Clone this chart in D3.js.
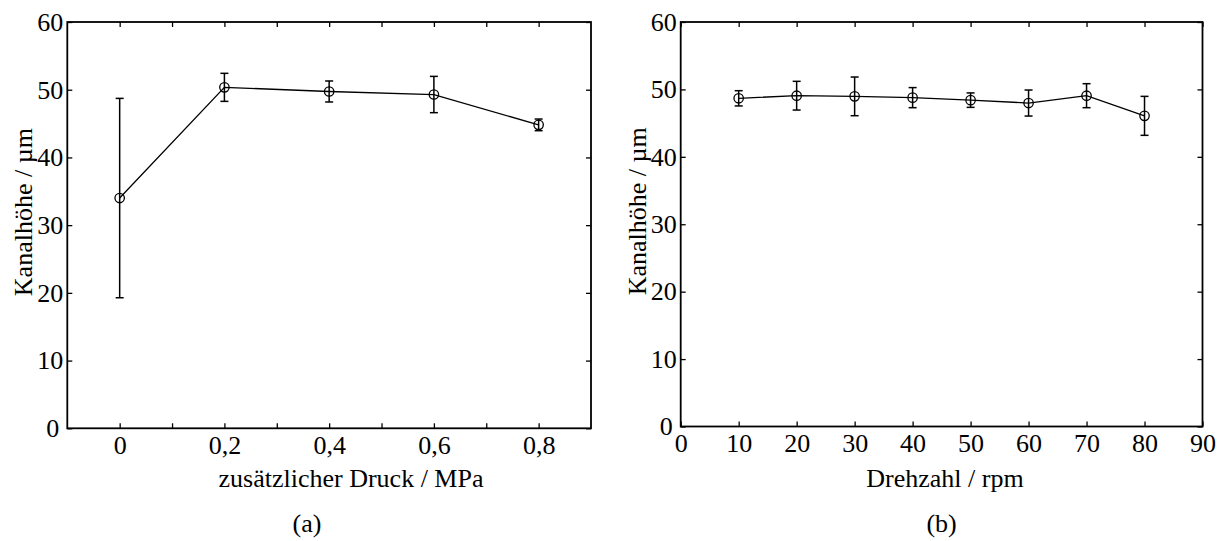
<!DOCTYPE html>
<html>
<head>
<meta charset="utf-8">
<script src="https://cdn.jsdelivr.net/npm/d3@7"></script>
<style>
  html, body { margin: 0; padding: 0; background: #fff; }
  svg text { font-family: "Liberation Serif", "Times New Roman", serif; fill: #000; }
</style>
</head>
<body>
<div id="chart"></div>
<script>
// Panel (a): channel height vs. additional pressure
var pressure = [0, 0.2, 0.4, 0.6, 0.8];
var heightA = [34.0, 50.35, 49.74, 49.29, 44.81];
var errA = [14.72, 2.07, 1.55, 2.68, 0.86];
var pressureTicks = [0, 0.1, 0.2, 0.3, 0.4, 0.5, 0.6, 0.7, 0.8];

// Panel (b): channel height vs. rotational speed
var speed = [10, 20, 30, 40, 50, 60, 70, 80];
var heightB = [48.68, 49.07, 48.97, 48.78, 48.41, 47.98, 49.07, 46.08];
var errB = [1.13, 2.13, 2.87, 1.49, 1.07, 1.93, 1.78, 2.89];
var speedTicks = [0, 10, 20, 30, 40, 50, 60, 70, 80, 90];

var yTicks = [0, 10, 20, 30, 40, 50, 60];

var width = 1219, height = 541;
var svg = d3.select('#chart').append('svg')
  .attr('width', width)
  .attr('height', height);

// comma as decimal separator, plain "0" for zero
function germanFormat(d) {
  if (d === 0) return '0';
  return d3.format('.1f')(d).replace('.', ',');
}

var panels = [
  {
    box: { left: 67.3, right: 591, top: 22, bottom: 428.3 },
    xDomain: [-0.1, 0.9],
    xTicks: pressureTicks,
    xLabel: function (d) { return Math.round(d * 10) % 2 === 0 ? germanFormat(d) : ''; },
    x: pressure, y: heightA, err: errA,
    title: 'zusätzlicher Druck / MPa', titleX: 351,
    caption: '(a)', captionX: 307
  },
  {
    box: { left: 680.7, right: 1202.5, top: 22, bottom: 426.5 },
    xDomain: [0, 90],
    xTicks: speedTicks,
    xLabel: function (d) { return String(d); },
    x: speed, y: heightB, err: errB,
    title: 'Drehzahl / rpm', titleX: 945,
    caption: '(b)', captionX: 941.6
  }
];

panels.forEach(drawPanel);

function drawPanel(p) {
  var b = p.box;
  var xScale = d3.scaleLinear().domain(p.xDomain).range([b.left, b.right]);
  var yScale = d3.scaleLinear().domain([0, 60]).range([b.bottom, b.top]);
  var g = svg.append('g');

  // inward ticks on all four sides
  var bottomAxis = g.append('g')
    .attr('transform', 'translate(0,' + b.bottom + ')')
    .call(d3.axisBottom(xScale).tickValues(p.xTicks).tickFormat(p.xLabel).tickSize(-5).tickPadding(7));
  g.append('g')
    .attr('transform', 'translate(0,' + b.top + ')')
    .call(d3.axisTop(xScale).tickValues(p.xTicks).tickFormat('').tickSize(-5));
  var leftAxis = g.append('g')
    .attr('transform', 'translate(' + b.left + ',0)')
    .call(d3.axisLeft(yScale).tickValues(yTicks).tickSize(-5).tickPadding(4));
  g.append('g')
    .attr('transform', 'translate(' + b.right + ',0)')
    .call(d3.axisRight(yScale).tickValues(yTicks).tickFormat('').tickSize(-5));

  g.selectAll('.domain').remove();
  g.selectAll('.tick line').attr('stroke', '#000').attr('stroke-width', 1.3);
  g.selectAll('.tick text')
    .style('font-size', '26px')
    .style('font-family', '"Liberation Serif", "Times New Roman", serif');
  leftAxis.selectAll('.tick text').filter(function (d) { return d === 0; }).attr('x', -8);

  // plot frame
  g.append('rect')
    .attr('x', b.left).attr('y', b.top)
    .attr('width', b.right - b.left).attr('height', b.bottom - b.top)
    .attr('fill', 'none').attr('stroke', '#000').attr('stroke-width', 1.8);

  var pts = p.x.map(function (d, i) { return { x: d, y: p.y[i], e: p.err[i] }; });

  // error bars
  var bars = g.append('g').attr('stroke', '#000').attr('stroke-width', 1.5);
  bars.selectAll('line.v').data(pts).join('line').attr('class', 'v')
    .attr('x1', function (d) { return xScale(d.x); })
    .attr('x2', function (d) { return xScale(d.x); })
    .attr('y1', function (d) { return yScale(d.y - d.e); })
    .attr('y2', function (d) { return yScale(d.y + d.e); });
  [1, -1].forEach(function (s) {
    bars.selectAll('line.c' + s).data(pts).join('line').attr('class', 'c' + s)
      .attr('x1', function (d) { return xScale(d.x) - 4; })
      .attr('x2', function (d) { return xScale(d.x) + 4; })
      .attr('y1', function (d) { return yScale(d.y + s * d.e); })
      .attr('y2', function (d) { return yScale(d.y + s * d.e); });
  });

  // connecting line and open markers
  g.append('path').datum(pts)
    .attr('fill', 'none').attr('stroke', '#000').attr('stroke-width', 1.3)
    .attr('d', d3.line().x(function (d) { return xScale(d.x); }).y(function (d) { return yScale(d.y); }));
  g.selectAll('circle').data(pts).join('circle')
    .attr('cx', function (d) { return xScale(d.x); })
    .attr('cy', function (d) { return yScale(d.y); })
    .attr('r', 4.7)
    .attr('fill', 'none').attr('stroke', '#000').attr('stroke-width', 1.3);

  // axis titles and caption
  g.append('text')
    .attr('x', p.titleX).attr('y', 487)
    .attr('text-anchor', 'middle').style('font-size', '26px')
    .text(p.title);
  g.append('text')
    .attr('transform', 'translate(' + (b.left - 35) + ',' + ((b.top + b.bottom) / 2 - 13) + ') rotate(-90)')
    .attr('text-anchor', 'middle').style('font-size', '26px')
    .text('Kanalhöhe / µm');
  g.append('text')
    .attr('x', p.captionX).attr('y', 532)
    .attr('text-anchor', 'middle').style('font-size', '26px')
    .text(p.caption);
}
</script>
</body>
</html>
